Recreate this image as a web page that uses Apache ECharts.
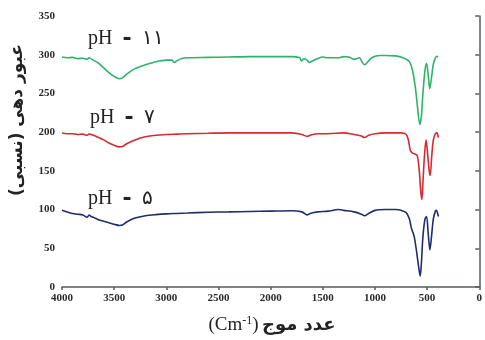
<!DOCTYPE html>
<html><head><meta charset="utf-8">
<script src="https://cdn.jsdelivr.net/npm/echarts@6/dist/echarts.min.js"></script>
<style>html,body{margin:0;padding:0;background:#fff}#c{width:485px;height:340px}</style>
</head><body><div id="c"></div>
<script>
var xTicks = [4000,3500,3000,2500,2000,1500,1000,500,0];
var yTicks = [0,50,100,150,200,250,300,350];
var seriesNames = ['pH - ۱۱','pH - ۷','pH - ۵'];
var phDigits = ['۱۱','۷','۵'];
var ph11 = [[4000,297],[3950,296],[3900,296.5],[3850,295],[3800,295.5],[3760,294],[3740,296],[3700,293],[3650,289],[3600,283],[3550,277],[3500,272],[3450,269],[3420,270],[3380,275],[3300,282],[3200,287],[3100,291],[3000,293],[2950,293],[2920,290],[2900,292],[2850,295],[2800,296],[2600,296.5],[2400,297],[2200,297.5],[2000,297.5],[1800,297.5],[1720,296],[1705,292],[1680,295],[1650,293],[1630,290],[1600,292],[1550,295],[1500,297],[1450,296],[1400,296],[1350,296],[1300,297.5],[1250,297],[1200,294],[1150,296],[1120,290],[1100,287],[1080,289],[1040,295],[1000,298],[950,299],[900,299],[800,298.5],[750,297],[700,294],[670,291],[640,280],[610,255],[590,230],[570,210],[555,220],[540,250],[520,280],[505,289],[490,275],[475,256],[460,268],[440,288],[420,296],[406,298],[395,297]];
var ph7 = [[4000,199],[3950,198],[3900,198],[3850,197],[3800,197.5],[3760,196],[3740,197.5],[3700,196],[3650,193],[3600,190],[3550,186],[3500,183],[3450,181],[3420,181.5],[3380,185],[3300,190],[3200,194],[3100,196],[3000,197],[2900,197.5],[2800,198],[2600,198.5],[2400,199],[2200,199],[2000,199],[1800,199],[1700,197],[1650,194.5],[1620,196],[1550,198],[1450,198],[1300,199],[1200,197],[1130,195],[1100,193],[1060,196],[1000,198],[900,199],[800,199],[750,199],[700,197],[680,190],[660,176],[640,173],[620,172],[595,170],[575,150],[560,122],[550,113],[540,135],[525,170],[510,190],[495,172],[480,150],[470,144],[455,170],[440,190],[420,198],[406,199],[392,193]];
var ph5 = [[4000,99],[3950,97],[3900,95],[3850,94],[3800,93],[3760,90],[3740,93],[3720,91],[3700,90],[3650,87],[3600,85],[3550,83],[3500,81],[3450,79.5],[3420,80],[3380,84],[3300,89],[3200,92],[3100,93.5],[3000,94.5],[2900,95],[2800,95.5],[2600,96.5],[2400,97],[2200,97.5],[2000,98],[1800,98.5],[1700,97],[1650,93],[1620,95],[1550,97],[1450,98],[1350,100],[1300,99],[1200,97],[1130,94],[1100,92],[1060,95],[1000,99],[900,100],[800,100],[750,99],[700,96],[670,88],[654,78],[640,72],[622,64],[600,45],[580,25],[566,14],[555,30],[540,65],[520,88],[505,91],[490,70],[473,48],[460,62],[440,88],[420,98],[410,99],[395,93],[390,91]];
var colors = ['#2fb36a','#d62a33','#1f2d6b'];

var chart = echarts.init(document.getElementById('c'), null, {renderer:'canvas'});
var tickFont = {fontFamily:'Liberation Serif', fontWeight:'bold', fontSize:11, color:'#2a2a2a'};
var axisLineStyle = {color:'#555c66', width:1.5};
function phLabel(i, left, top){
  return {type:'text', left:left, top:top, style:{
    text:'{a|pH  }{d|-}{a|  ' + phDigits[i] + '}',
    rich:{
      a:{font:'20px "Liberation Serif", "DejaVu Serif", serif', fill:'#222'},
      d:{font:'900 22px "DejaVu Sans", sans-serif', fill:'#222'}
    }}};
}
chart.setOption({
  animation:false,
  backgroundColor:'#fff',
  grid:{left:62, right:3, top:16, bottom:53},
  xAxis:{type:'value', inverse:true, min:0, max:4000, interval:500,
    axisLine:{show:true, lineStyle:axisLineStyle},
    axisTick:{show:true, inside:false, length:3, lineStyle:axisLineStyle},
    axisLabel:Object.assign({margin:6, formatter:function(v){return xTicks.indexOf(v)>=0?String(v):'';}}, tickFont),
    splitLine:{show:false}},
  yAxis:{type:'value', min:0, max:350, interval:50,
    axisLine:{show:true, lineStyle:axisLineStyle},
    axisTick:{show:true, length:4, lineStyle:axisLineStyle},
    axisLabel:Object.assign({margin:7, formatter:function(v){return yTicks.indexOf(v)>=0?String(v):'';}}, tickFont),
    splitLine:{show:false}},
  series:[
    {name:seriesNames[0], type:'line', data:ph11, showSymbol:false, smooth:0.3, lineStyle:{color:colors[0], width:1.6}},
    {name:seriesNames[1], type:'line', data:ph7, showSymbol:false, smooth:0.3, lineStyle:{color:colors[1], width:1.6}},
    {name:seriesNames[2], type:'line', data:ph5, showSymbol:false, smooth:0.3, lineStyle:{color:colors[2], width:1.6}}
  ],
  graphic:[
    phLabel(0, 88, 28),
    phLabel(1, 90, 107),
    phLabel(2, 88, 188),
    {type:'text', x:18, y:120, rotation:Math.PI/2, style:{text:'عبور دهی (نسبی)', font:'bold 17px "DejaVu Sans", "Noto Sans", sans-serif', fill:'#222', align:'center', verticalAlign:'middle'}},
    {type:'text', x:272, y:325, style:{
      text:'{a|(Cm}{s|-1}{a|)} {b|عدد موج}', align:'center', verticalAlign:'middle',
      rich:{
        a:{font:'19px "Liberation Serif", serif', fill:'#222'},
        s:{font:'12px "Liberation Serif", serif', fill:'#222', verticalAlign:'top', padding:[0,0,8,0]},
        b:{font:'bold 18px "DejaVu Sans", "Noto Sans", sans-serif', fill:'#222'}
      }}}
  ]
});
</script></body></html>
